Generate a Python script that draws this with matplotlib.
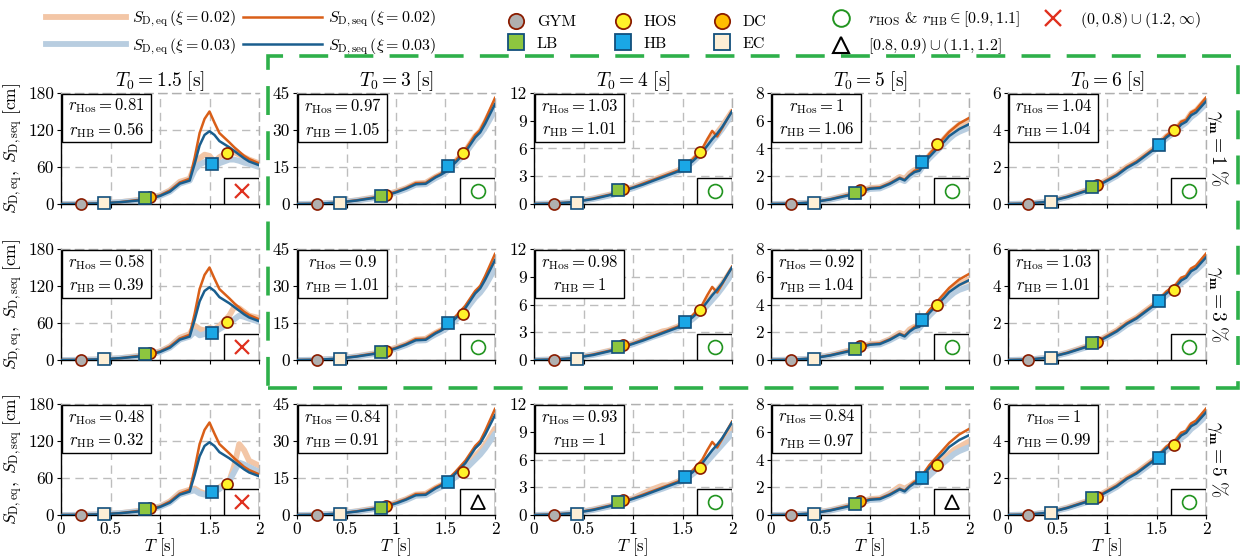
import numpy as np
import matplotlib
matplotlib.use("Agg")
import matplotlib.pyplot as plt
from matplotlib.lines import Line2D
from matplotlib.patches import Rectangle

plt.rcParams['font.family'] = 'serif'
plt.rcParams['font.serif'] = ['cmr10', 'DejaVu Serif']
plt.rcParams['mathtext.fontset'] = 'cm'
plt.rcParams['axes.formatter.use_mathtext'] = True
plt.rcParams['axes.unicode_minus'] = False

# ---- data ----
T = [0, 0.2, 0.4, 0.6, 0.8, 0.9, 1.0, 1.1, 1.2, 1.3, 1.35, 1.4, 1.45, 1.5, 1.55, 1.6, 1.7, 1.75, 1.8, 1.85, 1.9, 2.0]
T0 = [1.5, 3, 4, 5, 6]
gamma_m = [1, 3, 5]
ymax = [180, 45, 12, 8, 6]
yticks = [[0, 60, 120, 180], [0, 15, 30, 45], [0, 3, 6, 9, 12], [0, 2, 4, 6, 8], [0, 2, 4, 6]]

# S_D,seq (same for every gamma_m), one per T0
seq02 = [
    [0, 0.3, 1, 3, 7, 10, 14, 22, 35, 41, 75, 115, 138, 150, 132, 115, 100, 92, 85, 78, 73, 66],
    [0, 0.1, 0.5, 1.5, 2.8, 3.8, 5.0, 6.5, 8.5, 8.6, 10.0, 11.2, 12.2, 13.5, 15.5, 17.5, 22, 25, 28, 30, 34, 43],
    [0, 0.05, 0.2, 0.6, 1.1, 1.5, 1.8, 2.2, 2.6, 3.0, 3.2, 3.4, 3.6, 3.9, 4.3, 4.8, 6.0, 7.0, 7.9, 7.3, 8.2, 10.1],
    [0, 0.02, 0.1, 0.35, 0.7, 0.95, 1.15, 1.2, 1.5, 1.9, 1.75, 2.1, 2.4, 2.5, 3.1, 3.6, 4.4, 4.8, 5.2, 5.5, 5.8, 6.2],
    [0, 0.02, 0.12, 0.4, 0.75, 1.0, 1.3, 1.6, 2.0, 2.3, 2.5, 2.7, 2.9, 3.1, 3.4, 3.7, 4.1, 4.45, 4.55, 4.95, 5.1, 5.75],
]
seq03 = [
    [0, 0.3, 1, 3, 6, 9, 13, 20, 33, 38, 65, 95, 112, 118, 112, 102, 92, 86, 80, 74, 69, 63],
    [0, 0.1, 0.5, 1.4, 2.6, 3.5, 4.7, 6.2, 8.0, 8.2, 9.5, 10.8, 11.8, 13.0, 15.0, 16.8, 21, 24, 27, 29, 32.5, 40.5],
    [0, 0.05, 0.2, 0.55, 1.05, 1.4, 1.75, 2.1, 2.5, 2.9, 3.1, 3.3, 3.5, 3.8, 4.2, 4.6, 5.6, 6.3, 7.0, 7.6, 8.3, 10.0],
    [0, 0.02, 0.1, 0.33, 0.65, 0.9, 1.1, 1.15, 1.45, 1.85, 1.7, 2.05, 2.3, 2.4, 2.95, 3.4, 4.15, 4.5, 4.9, 5.15, 5.4, 5.75],
    [0, 0.02, 0.12, 0.38, 0.72, 0.97, 1.25, 1.55, 1.95, 2.25, 2.45, 2.65, 2.85, 3.05, 3.35, 3.6, 4.0, 4.3, 4.45, 4.8, 4.95, 5.55],
]

# S_D,eq, xi = 0.02, rows gamma_m = 1, 3, 5
eq02_g1 = [
    [0, 0.3, 1, 3, 7, 10, 14, 22, 36, 41, 62, 74, 80, 78, 68, 76, 85, 84, 80, 76, 72, 66],
    [0, 0.1, 0.5, 1.5, 2.8, 3.8, 5.0, 6.4, 8.3, 8.6, 9.8, 11, 12, 13.3, 15.2, 17.2, 21.5, 24.5, 27.5, 29.5, 33, 41],
    [0, 0.05, 0.2, 0.6, 1.1, 1.5, 1.8, 2.2, 2.6, 3.0, 3.2, 3.4, 3.6, 3.9, 4.3, 4.7, 5.7, 6.4, 7.1, 7.7, 8.4, 10.0],
    [0, 0.02, 0.1, 0.35, 0.7, 0.95, 1.15, 1.2, 1.5, 1.95, 1.8, 2.2, 2.45, 2.5, 3.0, 3.5, 4.3, 4.7, 5.1, 5.4, 5.7, 6.0],
    [0, 0.02, 0.12, 0.4, 0.75, 1.0, 1.3, 1.6, 2.0, 2.3, 2.5, 2.7, 2.9, 3.1, 3.4, 3.65, 4.05, 4.4, 4.5, 4.9, 5.05, 5.65],
]
eq02_g3 = [
    [0, 0.3, 1, 3, 7, 10, 14, 22, 36, 42, 56, 50, 48, 52, 50, 55, 72, 86, 84, 78, 72, 68],
    [0, 0.1, 0.5, 1.5, 2.8, 3.8, 5.0, 6.4, 8.3, 8.6, 9.8, 11, 12, 13.2, 15, 16.8, 20.8, 23.5, 26.5, 28.5, 32, 40],
    [0, 0.05, 0.2, 0.6, 1.1, 1.5, 1.8, 2.2, 2.7, 3.1, 3.2, 3.4, 3.6, 3.9, 4.2, 4.6, 5.5, 6.2, 6.9, 7.5, 8.2, 9.8],
    [0, 0.02, 0.1, 0.35, 0.7, 0.95, 1.15, 1.2, 1.5, 1.95, 1.8, 2.2, 2.4, 2.45, 2.9, 3.4, 4.1, 4.5, 4.9, 5.2, 5.5, 5.8],
    [0, 0.02, 0.12, 0.4, 0.75, 1.0, 1.3, 1.6, 2.0, 2.3, 2.5, 2.7, 2.9, 3.1, 3.35, 3.6, 4.0, 4.35, 4.45, 4.85, 5.0, 5.6],
]
eq02_g5 = [
    [0, 0.3, 1, 3, 7, 10, 14, 22, 36, 41, 43, 38, 35, 36, 40, 45, 55, 80, 115, 105, 88, 80],
    [0, 0.1, 0.5, 1.5, 2.8, 3.8, 5.0, 6.4, 8.3, 8.6, 9.8, 11, 12, 13, 14.5, 16, 19.5, 21.5, 24, 26, 28.5, 35],
    [0, 0.05, 0.2, 0.6, 1.1, 1.5, 1.8, 2.3, 2.8, 3.2, 3.2, 3.4, 3.6, 3.85, 4.1, 4.6, 5.4, 6.0, 6.6, 7.2, 7.8, 9.3],
    [0, 0.02, 0.1, 0.35, 0.7, 0.95, 1.15, 1.2, 1.55, 2.05, 1.9, 2.1, 2.35, 2.45, 2.6, 3.0, 3.7, 4.1, 4.4, 4.7, 4.9, 5.3],
    [0, 0.02, 0.12, 0.4, 0.75, 1.0, 1.3, 1.6, 2.0, 2.3, 2.5, 2.7, 2.9, 3.1, 3.35, 3.6, 4.0, 4.35, 4.45, 4.85, 5.0, 5.6],
]

# S_D,eq, xi = 0.03, rows gamma_m = 1, 3, 5
eq03_g1 = [
    [0, 0.3, 1, 3, 6, 9, 13, 20, 33, 38, 55, 64, 68, 68, 60, 66, 72, 72, 70, 67, 65, 60],
    [0, 0.1, 0.5, 1.4, 2.5, 3.4, 4.6, 6.0, 7.8, 8.0, 9.3, 10.5, 11.5, 12.7, 14.6, 16.3, 20.5, 23.3, 26, 28, 31, 38],
    [0, 0.05, 0.2, 0.55, 1.0, 1.4, 1.7, 2.1, 2.5, 2.85, 3.05, 3.25, 3.45, 3.75, 4.1, 4.5, 5.5, 6.1, 6.8, 7.4, 8.1, 9.7],
    [0, 0.02, 0.1, 0.32, 0.63, 0.88, 1.08, 1.12, 1.42, 1.8, 1.65, 2.0, 2.25, 2.35, 2.9, 3.3, 4.0, 4.35, 4.7, 5.0, 5.2, 5.5],
    [0, 0.02, 0.12, 0.37, 0.7, 0.95, 1.22, 1.52, 1.9, 2.2, 2.4, 2.6, 2.8, 3.0, 3.3, 3.55, 3.95, 4.2, 4.4, 4.7, 4.9, 5.4],
]
eq03_g3 = [
    [0, 0.3, 1, 3, 6, 9, 13, 20, 33, 38, 46, 40, 42, 48, 45, 50, 60, 66, 72, 70, 67, 62],
    [0, 0.1, 0.5, 1.4, 2.5, 3.4, 4.6, 6.0, 7.8, 8.0, 9.3, 10.4, 11.4, 12.5, 14.3, 16, 20, 22.7, 25.3, 27.3, 30, 37],
    [0, 0.05, 0.2, 0.55, 1.0, 1.4, 1.7, 2.1, 2.5, 2.85, 3.05, 3.25, 3.45, 3.7, 4.05, 4.4, 5.3, 5.9, 6.5, 7.1, 7.8, 9.3],
    [0, 0.02, 0.1, 0.32, 0.63, 0.88, 1.08, 1.12, 1.42, 1.8, 1.65, 2.0, 2.2, 2.3, 2.8, 3.2, 3.9, 4.2, 4.55, 4.85, 5.05, 5.3],
    [0, 0.02, 0.12, 0.37, 0.7, 0.95, 1.22, 1.52, 1.9, 2.2, 2.4, 2.6, 2.8, 3.0, 3.25, 3.5, 3.9, 4.15, 4.35, 4.65, 4.85, 5.35],
]
eq03_g5 = [
    [0, 0.3, 1, 3, 6, 9, 13, 20, 33, 38, 40, 35, 33, 33, 38, 42, 55, 70, 85, 82, 78, 70],
    [0, 0.1, 0.5, 1.4, 2.5, 3.4, 4.6, 6.0, 7.8, 8.0, 9.2, 10.3, 11.2, 12.3, 13.8, 15.3, 18.5, 20.5, 22.5, 24.5, 27, 33],
    [0, 0.05, 0.2, 0.55, 1.0, 1.4, 1.7, 2.1, 2.5, 2.85, 3.05, 3.25, 3.45, 3.7, 4.0, 4.4, 5.2, 5.8, 6.4, 7.0, 7.6, 8.8],
    [0, 0.02, 0.1, 0.32, 0.63, 0.88, 1.08, 1.12, 1.45, 1.85, 1.7, 2.0, 2.2, 2.3, 2.5, 2.85, 3.5, 3.8, 4.1, 4.4, 4.6, 4.9],
    [0, 0.02, 0.12, 0.37, 0.7, 0.95, 1.22, 1.52, 1.9, 2.2, 2.4, 2.6, 2.8, 3.0, 3.25, 3.5, 3.9, 4.15, 4.35, 4.65, 4.85, 5.35],
]

# building periods and their spectral values
bld_names = ['GYM', 'EC', 'DC', 'LB', 'HB', 'HOS']
bld_T = [0.2, 0.43, 0.9, 0.85, 1.53, 1.68]
gym_y = [[0, 0, 0, 0, 0]] * 3
ec_y = [[1, 0.4, 0.15, 0.1, 0.12], [1, 0.4, 0.15, 0.1, 0.12], [1, 0.4, 0.15, 0.1, 0.12]]
dc_y = [[11, 3.7, 1.6, 1.0, 1.0], [11, 3.7, 1.6, 1.0, 1.0], [11, 3.6, 1.6, 1.0, 1.0]]
lb_y = [[10, 3.2, 1.5, 0.8, 0.9], [10, 3.2, 1.4, 0.8, 0.9], [10, 3.0, 1.4, 0.8, 0.9]]
hb_y = [[65, 15.5, 4.1, 3.0, 3.2], [44, 15, 4.1, 2.9, 3.2], [37, 13.5, 4.1, 2.7, 3.1]]
hos_y = [[83, 20.5, 5.6, 4.3, 4.0], [61, 18.5, 5.4, 4.0, 3.8], [50, 17.5, 5.1, 3.6, 3.8]]

r_hos = [[0.81, 0.97, 1.03, 1, 1.04], [0.58, 0.9, 0.98, 0.92, 1.03], [0.48, 0.84, 0.93, 0.84, 1]]
r_hb = [[0.56, 1.05, 1.01, 1.06, 1.04], [0.39, 1.01, 1, 1.04, 1.01], [0.32, 0.91, 1, 0.97, 0.99]]

# ---- styles ----
c_or = '#d95f18'
c_bl = '#1a5e8e'
c_or_l = '#f3c6a6'
c_bl_l = '#b8cde0'
edge_r = '#8a1c00'
edge_b = '#124f7c'
bld_style = {
    'GYM': dict(marker='o', mfc='#b0b0b0', mec=edge_r),
    'EC': dict(marker='s', mfc='#fdefd6', mec=edge_b),
    'DC': dict(marker='o', mfc='#ffbe00', mec=edge_r),
    'LB': dict(marker='s', mfc='#8dc63f', mec=edge_b),
    'HB': dict(marker='s', mfc='#1aa7e6', mec=edge_b),
    'HOS': dict(marker='o', mfc='#fff22a', mec=edge_r),
}
ms = 8

eq02 = [eq02_g1, eq02_g3, eq02_g5]
eq03 = [eq03_g1, eq03_g3, eq03_g5]
bld_y = {'GYM': gym_y, 'EC': ec_y, 'DC': dc_y, 'LB': lb_y, 'HB': hb_y, 'HOS': hos_y}

W, H = 1244, 556
fig = plt.figure(figsize=(W / 100, H / 100), dpi=100)

lefts = [61, 297, 534, 771, 1008]
tops = [93, 249, 404]
aw, ah = 198, 111

for i in range(3):
    for j in range(5):
        ax = fig.add_axes([lefts[j] / W, 1 - (tops[i] + ah) / H, aw / W, ah / H])
        ax.plot(T, eq02[i][j], color=c_or_l, lw=4.2, solid_capstyle='round', zorder=2)
        ax.plot(T, eq03[i][j], color=c_bl_l, lw=4.2, solid_capstyle='round', zorder=2)
        ax.plot(T, seq02[j], color=c_or, lw=1.8, zorder=3)
        ax.plot(T, seq03[j], color=c_bl, lw=1.8, zorder=3)
        for k, nm in enumerate(bld_names):
            ax.plot(bld_T[k], bld_y[nm][i][j], ls='none', ms=ms, mew=1.2, zorder=5 + k,
                    clip_on=False, **bld_style[nm])

        ax.set_xlim(0, 2)
        ax.set_ylim(0, ymax[j])
        ax.set_xticks([0, 0.5, 1, 1.5, 2])
        ax.set_yticks(yticks[j])
        ax.set_yticklabels([f'{v:g}' for v in yticks[j]], fontsize=12.5)
        if i == 2:
            ax.set_xticklabels(['0', '0.5', '1', '1.5', '2'], fontsize=12.5)
            ax.set_xlabel(r'$T$ [s]', fontsize=12, labelpad=-1)
        else:
            ax.set_xticklabels([])
        ax.tick_params(length=3, width=0.8, pad=2)
        ax.grid(True, ls=(0, (6, 4)), color='#bdbdbd', lw=1.0)
        ax.set_axisbelow(True)
        for sp in ax.spines.values():
            sp.set_color('#b0b0b0')
            sp.set_linewidth(1.0)
            sp.set_linestyle((0, (6, 4)))
        ax.spines['left'].set_color('black')
        ax.spines['left'].set_linestyle('-')
        ax.spines['bottom'].set_color('black')
        ax.spines['bottom'].set_linestyle('-')

        if i == 0:
            ax.set_title(r'$T_{\mathbf{0}} = %g\ [\mathrm{s}]$' % T0[j], fontsize=14, pad=4)
        if j == 0:
            ax.set_ylabel(r'$S_{\mathrm{D,eq}},\ S_{\mathrm{D,seq}}\ [\mathrm{cm}]$', fontsize=12.5, labelpad=2)
        if j == 4:
            ax.text(1.06, 0.5, r'$\gamma_{\mathbf{m}} = %d\ \%%$' % gamma_m[i], transform=ax.transAxes,
                    rotation=-90, ha='center', va='center', fontsize=14)

        # ratio box
        ax.add_patch(Rectangle((0.005, 0.555), 0.45, 0.44, transform=ax.transAxes, fc='white',
                               ec='black', lw=1.0, zorder=10))
        ax.text(0.23, 0.775, r'$r_{\mathrm{Hos}} = %g$' '\n' r'$r_{\mathrm{HB}} = %g$' % (r_hos[i][j], r_hb[i][j]),
                transform=ax.transAxes, ha='center', va='center', fontsize=12, linespacing=1.3, zorder=11)

        # classification box
        ax.add_patch(Rectangle((0.825, 0.0), 0.175, 0.23, transform=ax.transAxes, fc='white',
                               ec='black', lw=1.0, zorder=10))
        a, b = r_hos[i][j], r_hb[i][j]
        if 0.9 <= a <= 1.1 and 0.9 <= b <= 1.1:
            sym = dict(marker='o', mfc='none', mec='#21941f', ms=10, mew=1.2)
        elif 0.8 <= a <= 1.2 and 0.8 <= b <= 1.2:
            sym = dict(marker='^', mfc='none', mec='black', ms=10, mew=1.3)
        else:
            sym = dict(marker='x', mfc='none', mec='#e0301e', ms=10, mew=1.6)
        ax.plot([0.912], [0.115], transform=ax.transAxes, ls='none', zorder=11, **sym)

# green dashed frame around T0 = 3..6, gamma_m = 1, 3
fig.add_artist(Rectangle((268 / W, 1 - 388 / H), (1238 - 268) / W, (388 - 56) / H, transform=fig.transFigure,
                         fill=False, ec='#2eb04a', lw=2.6, ls=(0, (8, 4.5))))

# legends
leg_y = 1 - 33 / H
h_lines = [
    Line2D([], [], color=c_or_l, lw=4.2),
    Line2D([], [], color=c_bl_l, lw=4.2),
    Line2D([], [], color=c_or, lw=1.8),
    Line2D([], [], color=c_bl, lw=1.8),
]
l_lines = [r'$S_{\mathrm{D,eq}}\,(\xi = 0.02)$', r'$S_{\mathrm{D,eq}}\,(\xi = 0.03)$',
           r'$S_{\mathrm{D,seq}}\,(\xi = 0.02)$', r'$S_{\mathrm{D,seq}}\,(\xi = 0.03)$']
fig.legend(h_lines, l_lines, loc='center left', bbox_to_anchor=(43 / W, leg_y), ncol=2, frameon=False,
           fontsize=11.5, handlelength=5.0, handletextpad=0.35, columnspacing=0.45, labelspacing=0.45,
           borderaxespad=0, borderpad=0.2)

# building legend, one column at a time
bld_cols = [(['GYM', 'LB'], 497), (['HOS', 'HB'], 604), (['DC', 'EC'], 703)]
for names, x0 in bld_cols:
    hh = [Line2D([], [], ls='none', ms=11, mew=1.3, **bld_style[n]) for n in names]
    fig.legend(hh, names, loc='center left', bbox_to_anchor=(x0 / W, leg_y), ncol=1, frameon=False,
               fontsize=11.5, handlelength=2.0, handletextpad=0.3, labelspacing=0.45,
               borderaxespad=0, borderpad=0.2)

h_sym = [Line2D([], [], ls='none', marker='o', mfc='none', mec='#21941f', ms=12, mew=1.4),
         Line2D([], [], ls='none', marker='^', mfc='none', mec='black', ms=11, mew=1.5),
         Line2D([], [], ls='none', marker='x', mec='#e0301e', ms=11, mew=1.7)]
l_sym = [r'$r_{\mathrm{HOS}}$ & $r_{\mathrm{HB}} \in [0.9, 1.1]$', r'$[0.8, 0.9) \cup (1.1, 1.2]$',
         r'$(0, 0.8) \cup (1.2, \infty)$']
fig.legend(h_sym, l_sym, loc='center left', bbox_to_anchor=(822 / W, leg_y), ncol=2, frameon=False,
           fontsize=11.5, handletextpad=0.7, columnspacing=1.0, labelspacing=0.45,
           borderaxespad=0, borderpad=0.2)

fig.savefig('out.png', dpi=100)
